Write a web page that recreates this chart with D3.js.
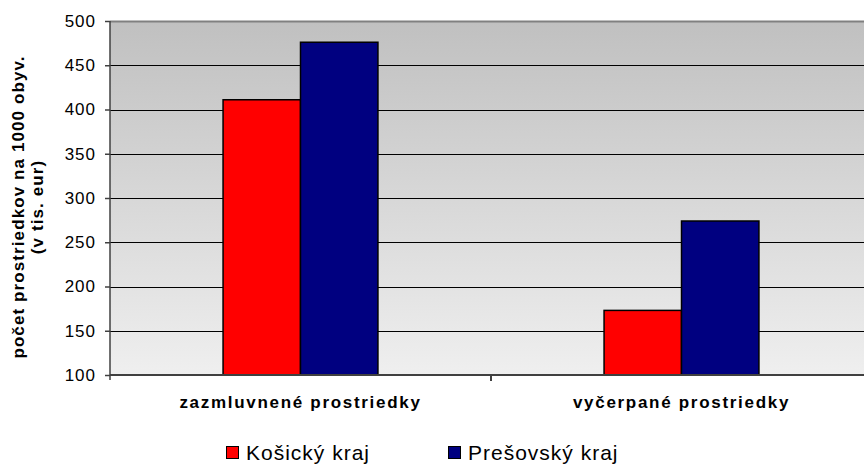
<!DOCTYPE html>
<html>
<head>
<meta charset="utf-8">
<script src="https://cdn.jsdelivr.net/npm/d3@7"></script>
<style>
  body { margin: 0; background: #fff; }
  text { font-family: "Liberation Sans", Arial, sans-serif; }
</style>
</head>
<body>
<script>
// chart data
var categories = ["zazmluvnené prostriedky", "vyčerpané prostriedky"];
var seriesNames = ["Košický kraj", "Prešovský kraj"];
var kosice = [411, 173];
var presov = [476, 274];
var yTicks = [100, 150, 200, 250, 300, 350, 400, 450, 500];
var colors = ["#ff0000", "#000080"];

var w = 864, h = 464;
var pLeft = 110, pRight = 872, pTop = 21, pBottom = 375;

var svg = d3.select("body").append("svg")
    .attr("width", w)
    .attr("height", h);

// gray-to-light gradient plot background
var grad = svg.append("defs").append("linearGradient")
    .attr("id", "bg")
    .attr("x1", 0).attr("y1", 0).attr("x2", 0).attr("y2", 1);
grad.append("stop").attr("offset", "0%").attr("stop-color", "#c0c0c0");
grad.append("stop").attr("offset", "100%").attr("stop-color", "#efefef");

svg.append("rect")
    .attr("x", pLeft).attr("y", pTop)
    .attr("width", pRight - pLeft).attr("height", pBottom - pTop)
    .style("fill", "url(#bg)");

var y = d3.scaleLinear().domain([100, 500]).range([pBottom, pTop]);
var x0 = d3.scaleBand().domain(categories).range([pLeft, pRight]);
var x1 = d3.scaleBand().domain(seriesNames)
    .range([0, x0.bandwidth()])
    .paddingOuter(1.46).paddingInner(0);

// gridlines
svg.selectAll(".grid")
    .data(yTicks.slice(1, -1))
    .enter().append("line")
    .attr("x1", pLeft).attr("x2", pRight)
    .attr("y1", function(d){ return Math.round(y(d)) + 0.5; })
    .attr("y2", function(d){ return Math.round(y(d)) + 0.5; })
    .style("stroke", "#000").style("stroke-width", 1);

// top border
svg.append("line")
    .attr("x1", pLeft).attr("x2", pRight)
    .attr("y1", pTop + 0.5).attr("y2", pTop + 0.5)
    .style("stroke", "#808080").style("stroke-width", 2);

// bars
var rows = categories.map(function(c, i){
    return [{s: seriesNames[0], v: kosice[i]}, {s: seriesNames[1], v: presov[i]}];
});

var groups = svg.selectAll(".grp")
    .data(rows)
    .enter().append("g")
    .attr("transform", function(d, i){ return "translate(" + x0(categories[i]) + ",0)"; });

groups.selectAll("rect")
    .data(function(d){ return d; })
    .enter().append("rect")
    .attr("x", function(d){ return x1(d.s); })
    .attr("y", function(d){ return y(d.v); })
    .attr("width", x1.bandwidth())
    .attr("height", function(d){ return pBottom - y(d.v); })
    .style("fill", function(d, i){ return colors[i]; })
    .style("stroke", "#000")
    .style("stroke-width", 1.5);

// y axis
var yAxis = d3.axisLeft(y).tickValues(yTicks).tickSize(5).tickPadding(9);
var ya = svg.append("g")
    .attr("transform", "translate(" + pLeft + ",0)")
    .call(yAxis);
ya.select(".domain").remove();
ya.append("line").attr("x1", 0).attr("x2", 0).attr("y1", pTop).attr("y2", pBottom + 5)
    .style("stroke", "#404040").style("stroke-width", 1.5);
ya.selectAll(".tick line").style("stroke", "#404040").style("stroke-width", 1.5);
ya.selectAll(".tick text")
    .style("font-size", "17px")
    .style("letter-spacing", "1px")
    .style("fill", "#000")
    .style("font-family", "'Liberation Sans', Arial, sans-serif");

// x axis
svg.append("line")
    .attr("x1", pLeft).attr("x2", pRight)
    .attr("y1", pBottom).attr("y2", pBottom)
    .style("stroke", "#404040").style("stroke-width", 2);
svg.append("line")
    .attr("x1", x0(categories[1])).attr("x2", x0(categories[1]))
    .attr("y1", pBottom).attr("y2", pBottom + 6)
    .style("stroke", "#404040").style("stroke-width", 2);

svg.selectAll(".catlabel")
    .data(categories)
    .enter().append("text")
    .attr("x", function(d){ return x0(d) + x0.bandwidth() / 2; })
    .attr("y", 408)
    .attr("text-anchor", "middle")
    .style("font-size", "17px")
    .style("letter-spacing", "1.7px")
    .style("font-weight", "bold")
    .text(function(d){ return d; });

// y axis title
var yt = svg.append("text")
    .attr("transform", "translate(24,207) rotate(-90)")
    .attr("text-anchor", "middle")
    .style("font-size", "17px")
    .style("letter-spacing", "1.1px")
    .style("font-weight", "bold");
yt.append("tspan").attr("x", 0).attr("dy", 0).text("počet prostriedkov na 1000 obyv.");
yt.append("tspan").attr("x", 0).attr("dy", 19).text("(v tis. eur)");

// legend
var legendX = [226, 448];
var legend = svg.selectAll(".legend")
    .data(seriesNames)
    .enter().append("g")
    .attr("transform", function(d, i){ return "translate(" + legendX[i] + ",446)"; });
legend.append("rect")
    .attr("x", 0.5).attr("y", 0.5)
    .attr("width", 12).attr("height", 12)
    .style("fill", function(d, i){ return colors[i]; })
    .style("stroke", "#000").style("stroke-width", 1);
legend.append("text")
    .attr("x", 20).attr("y", 14)
    .style("font-size", "21px")
    .style("letter-spacing", "1px")
    .text(function(d){ return d; });
</script>
</body>
</html>
